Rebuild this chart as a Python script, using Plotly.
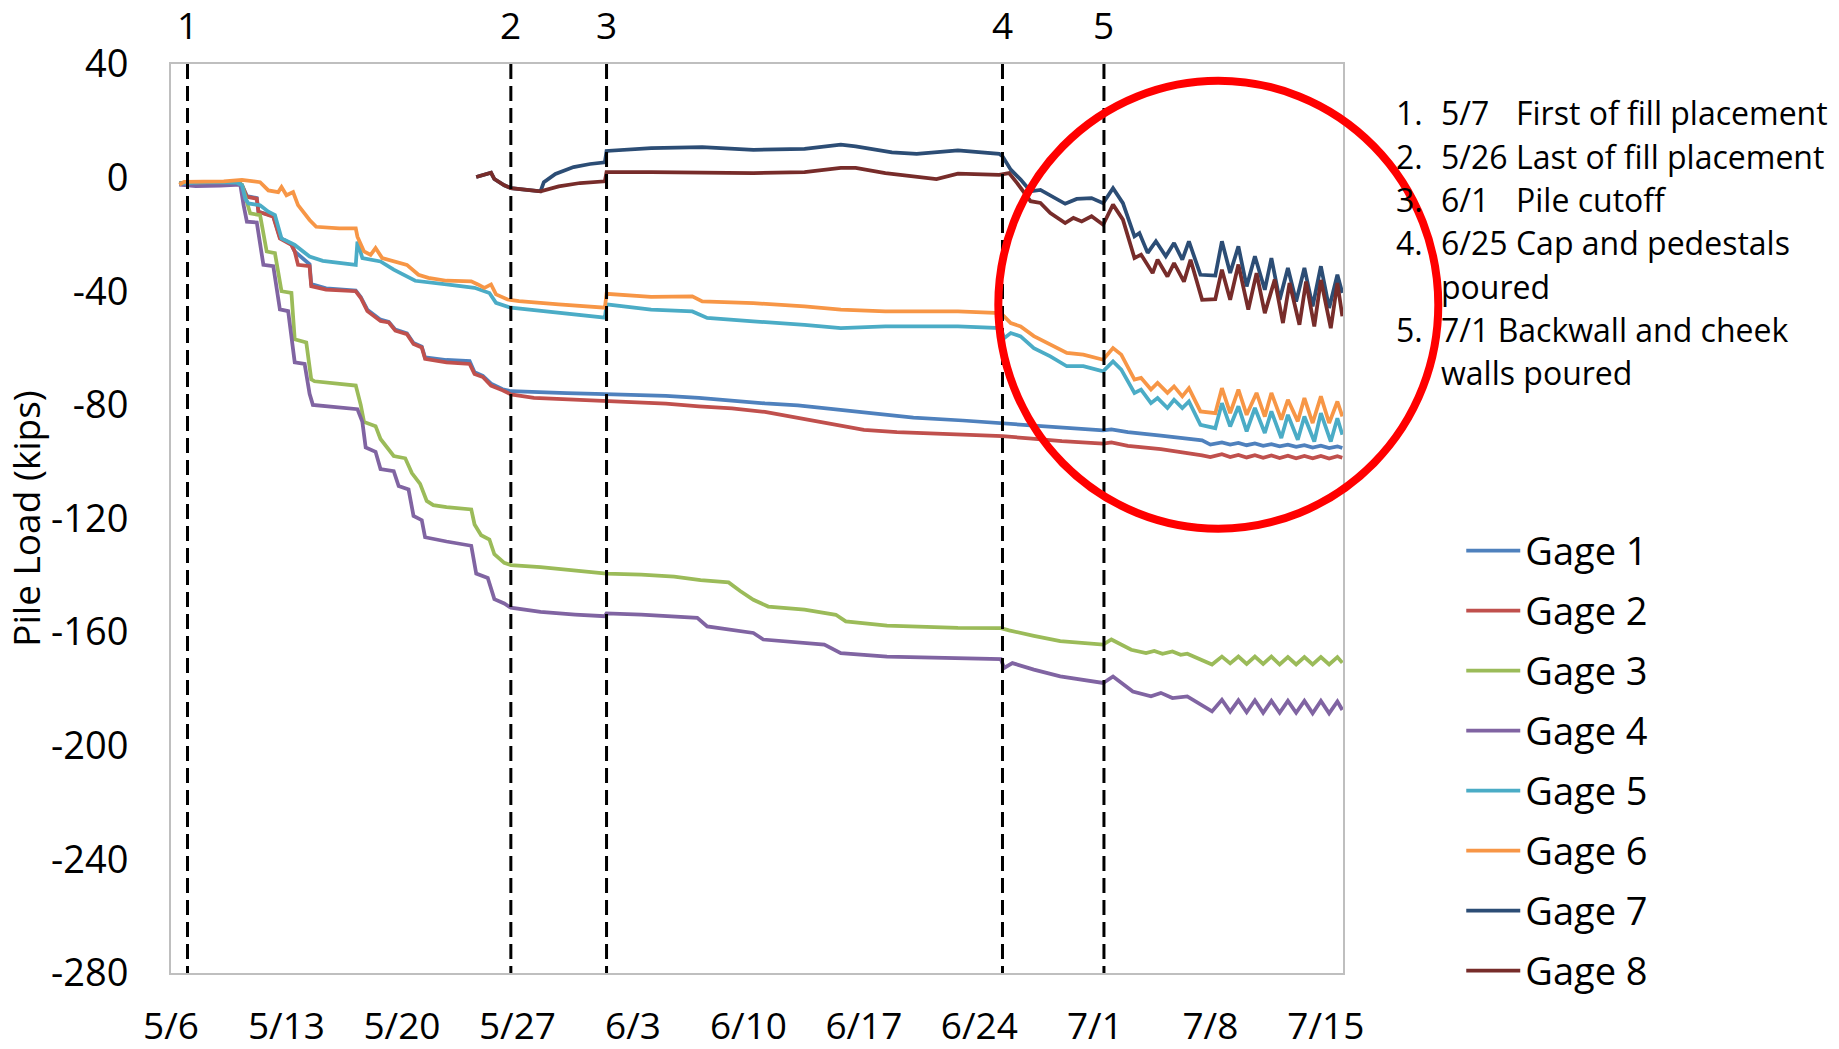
import pandas as pd
import plotly.graph_objects as go

# ---- data: (days after 5/6, pile load in kips) for each gage ----
gage1 = [(0.5,-2.0),(2.0,-1.5),(4.0,-1.5),(4.3,-2.5),(4.6,-6.5),(5.2,-7.2),(5.3,-12),(6.2,-13.5),(6.6,-21),(7.3,-23.5),
         (7.5,-26),(8.4,-30.5),(8.5,-37.5),(9.4,-39),(11.2,-39.8),(11.5,-42),(11.9,-46.5),(12.7,-50),(13.2,-50.8),(13.6,-53.5),
         (14.3,-54.8),(14.7,-58.2),(15.2,-59.5),(15.4,-63.3),(16.7,-64.2),(18.1,-64.6),(18.4,-68.5),(18.9,-69.8),(19.4,-72.5),(20.1,-74.5),
         (20.6,-75.2),(22.0,-75.6),(24.0,-75.9),(26.3,-76.2),(28.0,-76.5),(30.0,-76.8),(32.0,-77.5),(34.5,-78.8),(36.0,-79.5),(38.0,-80.2),
         (40.5,-81.8),(42.0,-82.8),(45.0,-84.5),(48.0,-85.5),(50.4,-86.5),(52.0,-87.2),(54.0,-88.0),(56.5,-89.0),(57.0,-88.6),(58.0,-89.6),
         (60.0,-90.8),(62.5,-92.5),(63.0,-94.0),(63.7,-93.2),(64.2,-94.0),(64.7,-93.4),(65.2,-94.2),(65.7,-93.6),(66.2,-94.4),(66.7,-93.8),
         (67.2,-94.6),(67.7,-94.0),(68.2,-94.8),(68.7,-94.2),(69.2,-95.0),(69.7,-94.4),(70.2,-95.2),(70.7,-94.6),(71.0,-95.2)]

gage2 = [(0.5,-2.0),(2.0,-1.5),(4.0,-1.5),(4.3,-2.7),(4.6,-6.8),(5.2,-7.4),(5.3,-12),(6.2,-13.8),(6.6,-21.4),(7.3,-23.7),
         (7.5,-26),(7.7,-30.7),(8.4,-31.2),(8.5,-38.2),(9.4,-39.4),(11.2,-40),(11.5,-42.3),(11.9,-47),(12.7,-50.5),(13.2,-51),
         (13.6,-53.9),(14.3,-55.1),(14.7,-58.6),(15.2,-59.8),(15.4,-63.8),(16.7,-65),(18.1,-65.6),(18.4,-69.1),(18.9,-70.2),(19.4,-73.2),
         (20.1,-74.9),(20.6,-76.3),(22.0,-77.5),(24.0,-78),(26.3,-78.8),(28.0,-79.2),(30.0,-79.6),(32.0,-80.5),(34.0,-81.2),(36.0,-82.5),
         (38.0,-84.5),(40.0,-86.5),(42.0,-88.8),(44.0,-89.6),(47.0,-90.3),(50.4,-91),(52.0,-91.8),(54.0,-92.8),(56.5,-93.6),(57.0,-93.2),
         (58.0,-94.4),(60.0,-95.6),(62.5,-97.8),(63.0,-98.4),(63.7,-97.4),(64.2,-98.4),(64.7,-97.6),(65.2,-98.5),(65.7,-97.7),(66.2,-98.6),
         (66.7,-97.8),(67.2,-98.7),(67.7,-97.9),(68.2,-98.8),(68.7,-98.0),(69.2,-98.8),(69.7,-98.0),(70.2,-98.9),(70.7,-98.1),(71.0,-98.6)]

gage3 = [(0.5,-2.0),(2.0,-1.8),(4.0,-1.6),(4.3,-2.5),(4.5,-6.2),(4.8,-12.6),(5.4,-13.2),(5.8,-26),(6.3,-26.6),(6.7,-40),
         (7.3,-40.6),(7.5,-56.9),(8.2,-58),(8.5,-71),(8.7,-71.7),(11.2,-73.2),(11.5,-80),(11.7,-86),(12.4,-87.5),(12.7,-92),
         (13.5,-98),(14.2,-98.8),(14.6,-104),(15.1,-107.8),(15.5,-113.8),(15.9,-115.3),(16.7,-116),(18.2,-116.8),(18.4,-122.1),(18.8,-125.9),
         (19.3,-127.4),(19.6,-132.6),(20.2,-135.6),(20.6,-136.4),(22.4,-137.1),(24.5,-138.2),(26.4,-139.4),(28.5,-139.8),(30.5,-140.5),(32.1,-141.7),
         (33.8,-142.5),(34.5,-145.5),(35.3,-148.6),(36.2,-151),(38.4,-152.1),(40.3,-153.9),(40.9,-156.2),(43.4,-157.7),(47.7,-158.5),(50.3,-158.6),
         (50.8,-159.4),(52.3,-161.3),(53.9,-163.2),(56.5,-164.4),(57.0,-162.6),(58.2,-166.2),(59.1,-167.4),(59.6,-166.6),(60.1,-167.6),(60.7,-166.8),
         (61.2,-168),(61.6,-167.6),(63.1,-171.4),(63.7,-168.6),(64.2,-171),(64.7,-168.6),(65.2,-171.2),(65.7,-168.6),(66.2,-171.2),(66.7,-168.6),
         (67.2,-171.4),(67.7,-168.8),(68.2,-171.4),(68.7,-168.8),(69.2,-171.4),(69.7,-168.8),(70.2,-171.4),(70.7,-168.8),(71.0,-170.8)]

gage4 = [(0.5,-2.5),(1.5,-3.0),(3.0,-2.8),(4.2,-2.5),(4.4,-9.7),(4.6,-15.5),(5.2,-15.8),(5.6,-30.7),(6.2,-31.2),(6.6,-46.4),
         (7.1,-47),(7.5,-65),(8.1,-65.6),(8.4,-76.1),(8.6,-80),(10.2,-80.8),(11.3,-81.5),(11.6,-86),(11.8,-95),(12.4,-96.5),
         (12.7,-102.6),(13.5,-103.3),(13.8,-108.6),(14.4,-109.8),(14.7,-119.1),(15.2,-120.6),(15.4,-126.6),(16.7,-128.1),(18.2,-129.6),(18.5,-139.4),
         (19.2,-140.9),(19.6,-148.4),(20.2,-149.9),(20.6,-151.4),(22.4,-152.9),(24.5,-153.8),(26.3,-154.4),(26.4,-153.4),(28.5,-153.8),(31.9,-155),
         (32.5,-158),(35.3,-160.3),(35.9,-162.6),(39.6,-164.4),(40.6,-167.4),(43.4,-168.6),(47.7,-169.1),(50.3,-169.5),(50.5,-172.6),(51.0,-170.9),
         (52.3,-173.2),(53.9,-175.6),(56.5,-177.9),(57.1,-175.6),(58.3,-180.9),(59.4,-182.6),(60.0,-181.4),(60.7,-183.2),(61.6,-182.6),(63.1,-187.9),
         (63.7,-183.8),(64.2,-188),(64.7,-184),(65.2,-188.2),(65.7,-184),(66.2,-188.4),(66.7,-184.2),(67.2,-188.4),(67.7,-184.2),(68.2,-188.4),
         (68.7,-184.2),(69.2,-188.6),(69.7,-184.2),(70.2,-188.6),(70.7,-184.4),(71.0,-187.4)]

gage5 = [(0.5,-2.1),(2.0,-1.6),(4.0,-1.8),(4.3,-2.7),(4.5,-7.4),(4.7,-9.1),(5.4,-9.7),(5.9,-12),(6.3,-13.2),(6.7,-21.4),
         (7.3,-23.1),(7.5,-23.7),(8.4,-27.8),(9.2,-29.3),(11.2,-30.7),(11.3,-22.5),(11.6,-28.3),(12.7,-29.5),(13.5,-32.4),(14.8,-36.3),
         (16.7,-37.6),(18.4,-38.8),(19.3,-40.6),(19.7,-44.1),(20.6,-45.8),(23.5,-47.5),(26.3,-49.3),(26.4,-44.6),(29.1,-46.5),(31.6,-47.1),
         (32.5,-49.4),(35.3,-50.6),(38.4,-51.8),(40.6,-53),(43.3,-52.4),(47.7,-52.4),(50.3,-53),(50.5,-56.5),(50.9,-54.7),(51.5,-55.9),
         (52.3,-60),(53.3,-62.9),(54.3,-66.4),(55.3,-66.4),(56.5,-68.2),(57.1,-64.7),(57.6,-67.6),(58.4,-75.8),(58.8,-74.6),(59.4,-79.4),
         (59.8,-77.6),(60.4,-81.1),(60.8,-78.2),(61.3,-81.1),(61.7,-78.8),(62.4,-87),(63.3,-88.2),(63.7,-79.4),(64.2,-87.6),(64.7,-80.5),
         (65.2,-89.3),(65.7,-81.1),(66.3,-89.9),(66.7,-82.3),(67.3,-91.7),(67.7,-83.5),(68.3,-92.3),(68.7,-84.1),(69.3,-92.9),(69.7,-82.9),
         (70.3,-92.9),(70.7,-84.7),(71.0,-90.5)]

gage6 = [(0.5,-2.5),(0.8,-1.5),(2.0,-1.4),(3.2,-1.3),(4.3,-0.8),(5.4,-1.6),(5.9,-4.5),(6.5,-5.1),(6.7,-3.3),(7.0,-6.2),
         (7.4,-5.1),(7.7,-9.7),(8.4,-14.9),(8.8,-17.3),(10.2,-17.9),(11.2,-17.9),(11.3,-20.8),(11.7,-26),(12.1,-27.2),(12.4,-24.8),
         (12.8,-28.3),(13.5,-29.5),(14.3,-30.7),(15.0,-34.2),(15.6,-35.3),(16.7,-36.3),(18.2,-36.5),(18.6,-37.6),(19.0,-38.8),(19.4,-37.6),
         (19.7,-41.1),(20.4,-42.9),(21.1,-43.5),(23.5,-44.6),(26.3,-45.8),(26.4,-40.9),(29.1,-42),(31.6,-41.8),(32.2,-43.6),(35.3,-44.2),
         (38.4,-45.3),(40.6,-46.5),(43.3,-47.1),(47.7,-47.1),(50.3,-47.7),(50.9,-51.2),(51.5,-52.4),(52.3,-55.8),(53.3,-58.8),(54.3,-61.7),
         (55.3,-62.3),(56.5,-64.1),(57.1,-60),(57.6,-62.3),(58.4,-71.1),(58.8,-70.5),(59.4,-74.6),(59.8,-72.3),(60.4,-75.8),(60.8,-73.5),
         (61.3,-77),(61.7,-74.1),(62.4,-82.3),(63.3,-82.9),(63.7,-74.1),(64.2,-82.9),(64.7,-74.6),(65.2,-83.5),(65.8,-75.8),(66.3,-84.1),
         (66.7,-75.8),(67.3,-85.2),(67.7,-78.2),(68.3,-85.8),(68.7,-77.6),(69.2,-86.4),(69.7,-77),(70.2,-86.4),(70.7,-78.8),(71.0,-84.1)]

gage7 = [(18.5,0.2),(19.4,1.7),(19.6,-0.5),(20.2,-2.7),(20.6,-3.7),(22.4,-4.8),(22.6,-1.6),(23.3,1.3),(24.4,3.7),(25.4,4.8),
         (26.3,5.4),(26.4,9.4),(29.1,10.4),(32.2,10.7),(35.3,9.8),(38.4,10.1),(40.6,11.6),(41.5,11.0),(43.7,8.9),(45.2,8.4),
         (47.7,9.6),(50.2,8.4),(50.4,7.5),(50.9,2.8),(51.5,-0.7),(52.1,-4.8),(52.7,-4.3),(53.4,-6.6),(54.2,-9.2),(54.9,-7.5),
         (55.8,-7.2),(56.5,-9.0),(57.1,-3.7),(57.7,-9),(58.4,-20.7),(58.7,-19.5),(59.2,-26.5),(59.7,-22.4),(60.3,-27.7),(60.8,-23.0),
         (61.3,-28.9),(61.7,-22.4),(62.4,-34.2),(63.3,-34.5),(63.7,-22.4),(64.2,-33.6),(64.7,-24.2),(65.2,-38.3),(65.7,-27.7),(66.3,-39.5),
         (66.7,-28.3),(67.2,-43),(67.7,-31.8),(68.2,-43.6),(68.7,-31.8),(69.2,-45.3),(69.7,-31.2),(70.2,-45.9),(70.7,-34.2),(71.0,-40.6)]

gage8 = [(18.5,0.2),(19.4,1.7),(19.6,-0.5),(20.2,-2.7),(20.6,-3.7),(22.4,-4.8),(23.5,-3.1),(24.8,-1.9),(26.3,-1.3),(26.4,1.9),
         (29.1,1.9),(32.2,1.6),(35.3,1.6),(38.4,1.9),(40.6,3.4),(41.5,3.4),(43.3,1.6),(46.4,-0.5),(47.7,1.4),(50.2,1.0),
         (50.8,1.6),(51.3,-2),(52.1,-8.3),(52.7,-8.9),(53.3,-12.5),(54.2,-16),(54.7,-14.2),(55.2,-15.4),(55.8,-13.6),(56.5,-16.6),
         (57.1,-9.5),(57.7,-14.8),(58.4,-28.3),(58.8,-27.1),(59.5,-33.6),(59.8,-28.9),(60.4,-34.8),(60.8,-30.1),(61.4,-36.6),(61.8,-28.9),
         (62.5,-43),(63.3,-42.8),(63.7,-32.4),(64.2,-43),(64.7,-30.6),(65.3,-46.5),(65.8,-33.6),(66.3,-47.7),(66.9,-35.9),(67.4,-51.2),
         (67.8,-37.1),(68.4,-51.8),(68.8,-36.6),(69.3,-52.4),(69.7,-36),(70.3,-53),(70.7,-37.1),(71.0,-48.8)]

gage_names = ["Gage 1", "Gage 2", "Gage 3", "Gage 4", "Gage 5", "Gage 6", "Gage 7", "Gage 8"]
gage_colors = ["#4F81BD", "#C0504D", "#9BBB59", "#8064A2", "#4BACC6", "#F79646", "#2C4D75", "#772C2A"]

# y axis ticks, written with a plain hyphen
y_ticks = [40, 0, -40, -80, -120, -160, -200, -240, -280]
y_tick_text = ["40", "0", "-40", "-80", "-120", "-160", "-200", "-240", "-280"]

# construction events (days after 5/6)
event_days = [1.0, 20.6, 26.4, 50.4, 56.55]
event_tags = ["1", "2", "3", "4", "5"]

START = pd.Timestamp("2013-05-06")
AXIS_END_DAYS = 71.04


def to_dates(days):
    return [START + pd.Timedelta(days=d) for d in days]


fig = go.Figure()
for name, color, series in zip(gage_names, gage_colors,
                               [gage1, gage2, gage3, gage4, gage5, gage6, gage7, gage8]):
    days, kips = zip(*series)
    fig.add_trace(go.Scatter(
        x=to_dates(days), y=list(kips), mode="lines", name=name,
        legendgroup=name,
        line=dict(color=color, width=3.75),
    ))

# event markers: dashed verticals with their number above the plot
for d, tag in zip(event_days, event_tags):
    t = START + pd.Timedelta(days=d)
    fig.add_shape(type="line", xref="x", yref="paper", x0=t, x1=t, y0=1, y1=0,
                  line=dict(color="black", width=3, dash="15px,7px"), layer="above")
    fig.add_annotation(x=t, xref="x", y=1.0435, yref="paper", text=tag, showarrow=False,
                       xanchor="center", yanchor="middle",
                       font=dict(size=37, color="black"))

# highlight of the post-cap response
fig.add_shape(type="circle", xref="paper", yref="paper",
              x0=0.7059, x1=1.0813, y0=0.4888, y1=0.9816,
              line=dict(color="#FF0000", width=8), layer="above")

# event list to the right of the plot
L_NUM, L_TXT, L_TAB = 1.0438, 1.0822, 1.1462
list_rows = [
    (0.9470, "1.", [(L_TXT, "5/7"), (L_TAB, "First of fill placement")]),
    (0.8984, "2.", [(L_TXT, "5/26 Last of fill placement")]),
    (0.8507, "3.", [(L_TXT, "6/1"), (L_TAB, "Pile cutoff")]),
    (0.8031, "4.", [(L_TXT, "6/25 Cap and pedestals")]),
    (0.7553, None, [(L_TXT, "poured")]),
    (0.7077, "5.", [(L_TXT, "7/1 Backwall and cheek")]),
    (0.6601, None, [(L_TXT, "walls poured")]),
]
for y, num, parts in list_rows:
    if num:
        fig.add_annotation(x=L_NUM, y=y, xref="paper", yref="paper", text=num, showarrow=False,
                           xanchor="left", yanchor="middle", font=dict(size=32, color="black"))
    for x, txt in parts:
        fig.add_annotation(x=x, y=y, xref="paper", yref="paper", text=txt, showarrow=False,
                           xanchor="left", yanchor="middle", font=dict(size=32, color="black"))

fig.update_layout(
    width=1839, height=1049,
    margin=dict(l=170.5, r=496.3, t=64.3, b=75.7, pad=0),
    paper_bgcolor="white", plot_bgcolor="white",
    font=dict(family="Open Sans", color="black", size=38),
    showlegend=True,
    legend=dict(x=1.1009, y=0.499, xanchor="left", yanchor="top",
                font=dict(size=38, color="black"), tracegroupgap=7.6,
                bgcolor="rgba(0,0,0,0)", borderwidth=0, itemwidth=54),
)

fig.update_xaxes(
    type="date", automargin=False,
    range=[START, START + pd.Timedelta(days=AXIS_END_DAYS)],
    tick0=START, dtick=7 * 86400000, tickformat="%-m/%-d",
    showgrid=False, zeroline=False,
    showline=True, linecolor="#BFBFBF", linewidth=2, mirror=True,
    ticks="", ticklabelstandoff=20,
    tickfont=dict(size=37),
)
fig.update_yaxes(
    automargin=False,
    range=[-280, 40], tickmode="array", tickvals=y_ticks, ticktext=y_tick_text,
    showgrid=False, zeroline=False,
    showline=True, linecolor="#BFBFBF", linewidth=2, mirror=True,
    ticks="", ticklabelstandoff=33,
    tickfont=dict(size=38),
    title=dict(text="Pile Load (kips)", font=dict(size=37), standoff=15),
)

fig.write_html("out.html")
